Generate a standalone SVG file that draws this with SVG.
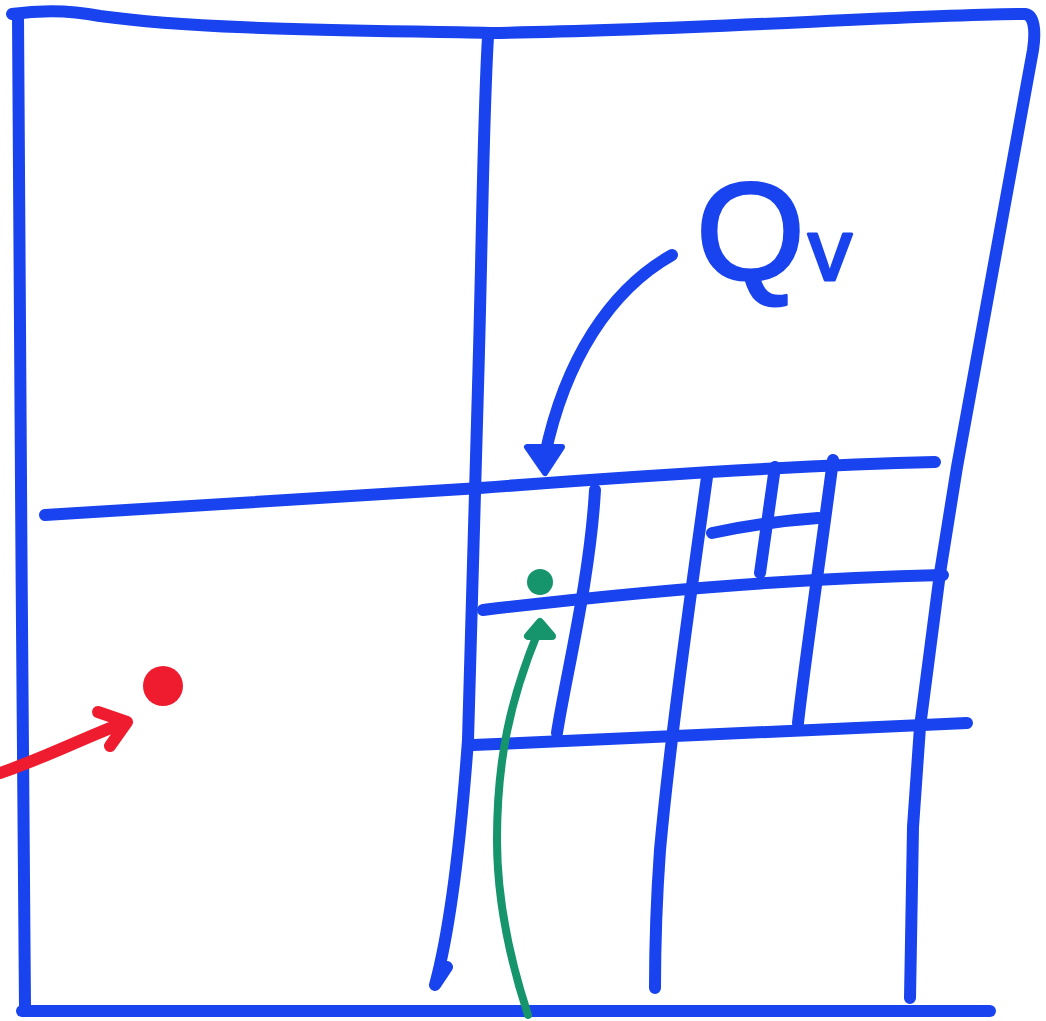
<svg xmlns="http://www.w3.org/2000/svg" width="1046" height="1021" viewBox="0 0 1046 1021">
<style>
.b{fill:none;stroke:#1843ee;stroke-width:12;stroke-linecap:round;stroke-linejoin:round}
.g{fill:none;stroke:#16946c;stroke-width:8;stroke-linecap:round}
.r{fill:none;stroke:#ee1c2e;stroke-width:12;stroke-linecap:round;stroke-linejoin:round}
.lbl{font-family:"Liberation Sans",Arial,sans-serif;fill:#1843ee;stroke:#1843ee;stroke-width:3;stroke-linejoin:round}
</style>
<rect width="1046" height="1021" fill="#ffffff"/>
<g id="frame">
<path class="b" d="M12,14 C40,10 70,10 100,16 C200,30 350,30 490,33 C700,30 900,15 1025,14 C1034,15 1036,30 1033,50 L957,467 L940,573 L920,727 L913,827 L910,998"/>
<path class="b" d="M18,16 C20,300 22,700 25,1008"/>
<path class="b" d="M22,1011 L990,1011"/>
<path class="b" d="M488,37 C483,120 482,253 478,387 C475,503 472,620 468,740 C460,850 450,930 435,985 L447,967"/>
<path class="b" d="M45,515 C200,505 350,495 480,488 C650,475 800,465 935,462"/>
</g>
<g id="grid">
<path class="b" d="M595,490 C590,580 565,680 557,733"/>
<path class="b" d="M707,477 C690,600 670,740 660,850 C655,920 655,960 655,988"/>
<path class="b" d="M775,467 L760,573"/>
<path class="b" d="M833,460 C820,560 805,660 798,723"/>
<path class="b" d="M712,533 C750,525 790,520 818,518"/>
<path class="b" d="M483,610 C650,590 800,578 943,575"/>
<path class="b" d="M473,745 C650,738 830,728 967,723"/>
</g>
<g id="label-Qv">
<text class="lbl" x="696" y="280" font-size="140">Q</text>
<text class="lbl" x="808" y="280" font-size="88">v</text>
</g>
<g id="connectors">
<path class="b" d="M672,255 C610,290 565,360 545,455"/>
<polygon points="527,447 562,447 545,473" fill="#1843ee" stroke="#1843ee" stroke-width="6" stroke-linejoin="round"/>
<path class="g" d="M528,1015 C510,960 497,900 497,840 C497,760 510,700 538,632"/>
<polygon points="528,636 552,636 540,622" fill="#16946c" stroke="#16946c" stroke-width="8" stroke-linejoin="round"/>
<path class="r" d="M0,773 C40,760 90,735 126,722"/>
<path class="r" d="M98,712 L127,722 L110,746"/>
</g>
<g id="points">
<circle cx="540" cy="582" r="13" fill="#16946c"/>
<circle cx="163" cy="686" r="20" fill="#ee1c2e"/>
</g>
</svg>
